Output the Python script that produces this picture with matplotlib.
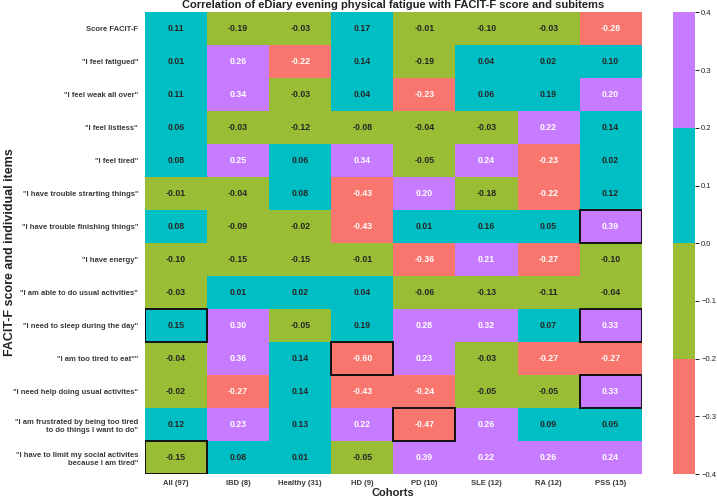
import numpy as np
import matplotlib
matplotlib.use('Agg')
import matplotlib.pyplot as plt
from matplotlib.colors import ListedColormap, BoundaryNorm
from matplotlib.patches import Rectangle

plt.rcParams['font.family'] = ['Liberation Sans', 'DejaVu Sans']

# data
cohorts = ['All (97)', 'IBD (8)', 'Healthy (31)', 'HD (9)', 'PD (10)', 'SLE (12)', 'RA (12)', 'PSS (15)']
items = ['Score FACIT-F',
         '"I feel fatigued"',
         '"I feel weak all over"',
         '"I feel listless"',
         '"I feel tired"',
         '"I have trouble strarting things"',
         '"I have trouble finishing things"',
         '"I have energy"',
         '"I am able to do usual activities"',
         '"I need to sleep during the day"',
         '"I am too tired to eat""',
         '"I need help doing usual activites"',
         '"I am frustrated by being too tired\nto do things I want to do"',
         '"I have to limit my social activites\nbecause I am tired"']
corr = np.array([
    [0.11, -0.19, -0.03, 0.17, -0.01, -0.10, -0.03, -0.28],
    [0.01, 0.26, -0.22, 0.14, -0.19, 0.04, 0.02, 0.10],
    [0.11, 0.34, -0.03, 0.04, -0.23, 0.06, 0.19, 0.20],
    [0.06, -0.03, -0.12, -0.08, -0.04, -0.03, 0.22, 0.14],
    [0.08, 0.25, 0.06, 0.34, -0.05, 0.24, -0.23, 0.02],
    [-0.01, -0.04, 0.08, -0.43, 0.20, -0.18, -0.22, 0.12],
    [0.08, -0.09, -0.02, -0.43, 0.01, 0.16, 0.05, 0.39],
    [-0.10, -0.15, -0.15, -0.01, -0.36, 0.21, -0.27, -0.10],
    [-0.03, 0.01, 0.02, 0.04, -0.06, -0.13, -0.11, -0.04],
    [0.15, 0.30, -0.05, 0.19, 0.28, 0.32, 0.07, 0.33],
    [-0.04, 0.36, 0.14, -0.60, 0.23, -0.03, -0.27, -0.27],
    [-0.02, -0.27, 0.14, -0.43, -0.24, -0.05, -0.05, 0.33],
    [0.12, 0.23, 0.13, 0.22, -0.47, 0.26, 0.09, 0.05],
    [-0.15, 0.08, 0.01, -0.05, 0.39, 0.22, 0.26, 0.24],
])
# cells with black outline (row, col)
boxed = [(9, 0), (13, 0), (6, 7), (9, 7), (11, 7), (10, 3), (12, 4)]

bounds = [-0.4, -0.2, 0.0, 0.2, 0.4]
cb_ticks = [-0.4, -0.3, -0.2, -0.1, 0.0, 0.1, 0.2, 0.3, 0.4]
colors = ['#F8766D', '#99BD35', '#00BFC4', '#C77CFF']
cmap = ListedColormap(colors)
cmap.set_under(colors[0])
cmap.set_over(colors[-1])
norm = BoundaryNorm(bounds, cmap.N)

fig = plt.figure(figsize=(7.17, 4.99), dpi=100)
ax = fig.add_axes([0.2022, 0.0501, 0.6928, 0.9249])
cax = fig.add_axes([0.9382, 0.0501, 0.0311, 0.9249])

mesh = ax.pcolormesh(corr, cmap=cmap, norm=norm)
ax.set_xlim(0, len(cohorts))
ax.set_ylim(len(items), 0)

for i in range(len(items)):
    for j in range(len(cohorts)):
        v = corr[i, j]
        tc = 'white' if (v >= 0.2 or v < -0.2) else '#262626'
        ax.text(j + 0.5, i + 0.5, f'{v:.2f}', ha='center', va='center',
                fontsize=6.3, fontweight='bold', color=tc)

for (i, j) in boxed:
    ax.add_patch(Rectangle((j, i), 1, 1, fill=False, edgecolor='#111111', lw=1.4))

ax.set_xticks(np.arange(len(cohorts)) + 0.5)
ax.set_xticklabels(cohorts, fontsize=5.5, fontweight='bold', color='#3a3a3a')
ax.set_yticks(np.arange(len(items)) + 0.5)
ax.set_yticklabels(items, fontsize=5.5, fontweight='bold', color='#3a3a3a')
ax.tick_params(axis='y', length=0, pad=5)
ax.tick_params(axis='x', length=0, pad=4)
for s in ax.spines.values():
    s.set_visible(False)

ax.set_xlabel('Cohorts', fontsize=8, fontweight='bold', labelpad=1, color='#222222')
ax.set_ylabel('FACIT-F score and individual items', fontsize=9, fontweight='bold', color='#222222')
ax.yaxis.set_label_coords(-0.26, 0.48)
ax.set_title('Correlation of eDiary evening physical fatigue with FACIT-F score and subitems',
             fontsize=8, fontweight='bold', pad=3, color='#222222')

cb = fig.colorbar(mesh, cax=cax, boundaries=bounds, ticks=cb_ticks)
cb.outline.set_visible(False)
cb.ax.tick_params(labelsize=5.5, length=3, width=0.7, pad=1.5, colors='#222222')
cb.ax.set_yticklabels([f'{t:.1f}'.replace('-', '\u2212') for t in cb_ticks])

fig.savefig('out.png', dpi=100)
